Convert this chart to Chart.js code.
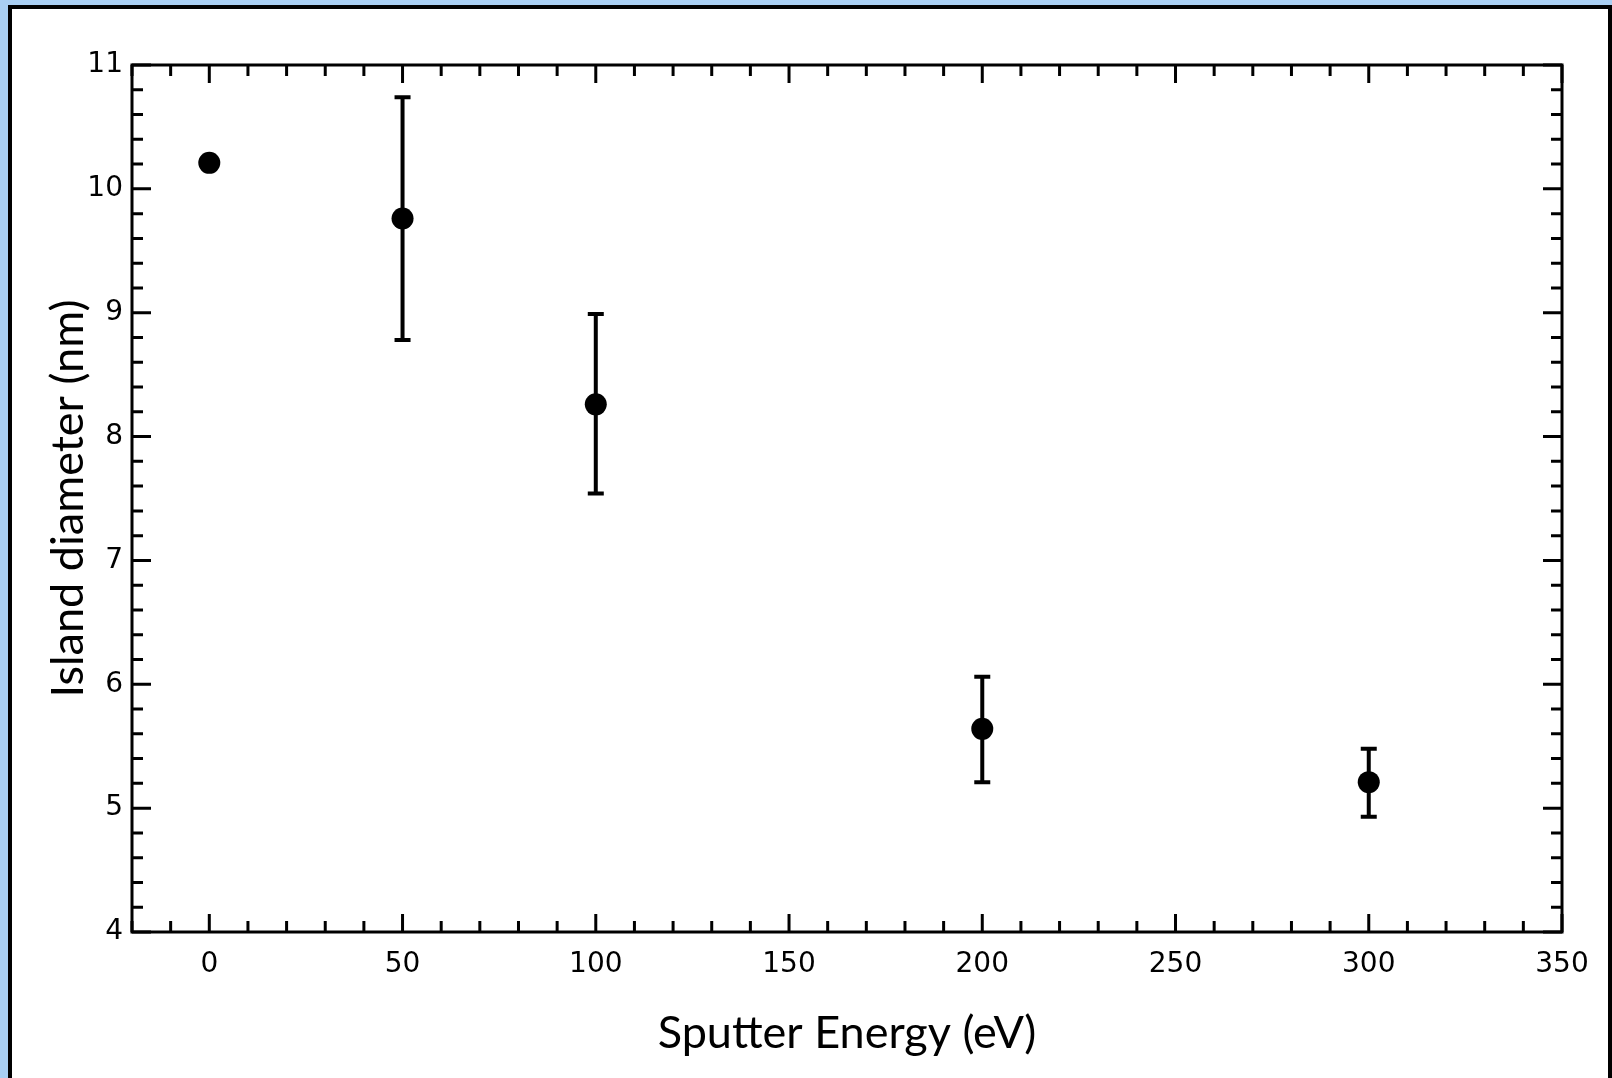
<!DOCTYPE html>
<html>
<head>
<meta charset="utf-8">
<script src="https://cdn.jsdelivr.net/npm/chart.js@4.4.1/dist/chart.umd.min.js"></script>
<style>
  html, body { margin: 0; padding: 0; overflow: hidden; }
  body { width: 1612px; height: 1078px; background: #a9cff3; position: relative; }
  #frame {
    position: absolute; left: 8px; top: 5px;
    width: 1596px; height: 1100px;
    border: 4px solid #000; background: #fff;
  }
  #wrap { position: absolute; left: 0; top: 0; width: 1596px; height: 1068px; }
</style>
</head>
<body>
<div id="frame">
  <div id="wrap"><canvas id="graph"></canvas></div>
</div>
<script>
var energy = [0, 50, 100, 200, 300];
var diameter = [10.21, 9.76, 8.26, 5.64, 5.21];
var errUpper = [null, 10.74, 8.99, 6.06, 5.48];
var errLower = [null, 8.78, 7.54, 5.21, 4.93];
var xTickLabels = [0, 50, 100, 150, 200, 250, 300, 350];
var yTickLabels = [4, 5, 6, 7, 8, 9, 10, 11];

document.addEventListener("DOMContentLoaded", function() {
    var ctx = document.getElementById("graph").getContext("2d");

    // error bars under the dots
    var errorBars = {
        id: "errorBars",
        beforeDatasetsDraw: function(chart) {
            var c = chart.ctx, xs = chart.scales.x, ys = chart.scales.y;
            c.save();
            c.strokeStyle = "#000";
            c.lineWidth = 4;
            for (var i = 0; i < energy.length; i++) {
                if (errUpper[i] == null) continue;
                var px = xs.getPixelForValue(energy[i]);
                var top = ys.getPixelForValue(errUpper[i]);
                var bot = ys.getPixelForValue(errLower[i]);
                c.beginPath();
                c.moveTo(px, top); c.lineTo(px, bot);
                c.moveTo(px - 8, top); c.lineTo(px + 8, top);
                c.moveTo(px - 8, bot); c.lineTo(px + 8, bot);
                c.stroke();
            }
            c.restore();
        }
    };

    // frame with inward ticks on all four sides
    var boxTicks = {
        id: "boxTicks",
        afterDatasetsDraw: function(chart) {
            var c = chart.ctx, a = chart.chartArea, xs = chart.scales.x, ys = chart.scales.y;
            c.save();
            c.strokeStyle = "#000";
            c.lineWidth = 3;
            c.beginPath();
            xs.ticks.forEach(function(t) {
                var px = xs.getPixelForValue(t.value);
                var len = Math.abs(t.value % 50) < 1e-6 ? 18 : 11;
                c.moveTo(px, a.bottom); c.lineTo(px, a.bottom - len);
                c.moveTo(px, a.top); c.lineTo(px, a.top + len);
            });
            ys.ticks.forEach(function(t) {
                var py = ys.getPixelForValue(t.value);
                var len = Math.abs(t.value - Math.round(t.value)) < 1e-6 ? 19 : 11;
                c.moveTo(a.left, py); c.lineTo(a.left + len, py);
                c.moveTo(a.right, py); c.lineTo(a.right - len, py);
            });
            c.stroke();
            c.strokeRect(a.left, a.top, a.right - a.left, a.bottom - a.top);
            c.restore();
        }
    };

    var data = {
        datasets: [{
            label: "Island diameter",
            data: energy.map(function(e, i) { return { x: e, y: diameter[i] }; }),
            pointRadius: 11,
            pointHoverRadius: 11,
            pointBackgroundColor: "#000",
            pointBorderColor: "#000",
            pointBorderWidth: 0,
            showLine: false
        }]
    };

    var options = {
        responsive: true,
        maintainAspectRatio: false,
        animation: false,
        events: [],
        layout: { padding: { top: 56, right: 46, left: 0, bottom: 0 } },
        plugins: { legend: { display: false }, tooltip: { enabled: false } },
        scales: {
            x: {
                type: "linear",
                min: -20,
                max: 350,
                border: { display: false },
                grid: { display: false, drawTicks: false },
                afterFit: function(s) { s.height = 145; },
                ticks: {
                    stepSize: 10,
                    autoSkip: false,
                    maxRotation: 0,
                    padding: 16,
                    color: "#000",
                    font: { family: "DejaVu Sans", size: 28 },
                    callback: function(v) {
                        var r = Math.round(v);
                        return (Math.abs(v - r) < 1e-6 && xTickLabels.indexOf(r) >= 0) ? String(r) : "";
                    }
                },
                title: {
                    display: true,
                    text: "Sputter Energy (eV)",
                    color: "#000",
                    font: { family: "Lato", size: 45 },
                    padding: { top: 0, bottom: 17 }
                }
            },
            y: {
                min: 4,
                max: 11,
                border: { display: false },
                grid: { display: false, drawTicks: false },
                afterFit: function(s) { s.width = 120; },
                ticks: {
                    stepSize: 0.2,
                    autoSkip: false,
                    padding: 9,
                    color: "#000",
                    font: { family: "DejaVu Sans", size: 28 },
                    callback: function(v) {
                        var r = Math.round(v);
                        return (Math.abs(v - r) < 1e-6 && yTickLabels.indexOf(r) >= 0) ? String(r) : "";
                    }
                },
                title: {
                    display: true,
                    text: "Island diameter (nm)",
                    color: "#000",
                    font: { family: "Lato", size: 45 },
                    padding: { top: 29, bottom: 0 }
                }
            }
        }
    };

    new Chart(ctx, {
        type: "scatter",
        data: data,
        options: options,
        plugins: [errorBars, boxTicks]
    });
});
</script>
</body>
</html>
